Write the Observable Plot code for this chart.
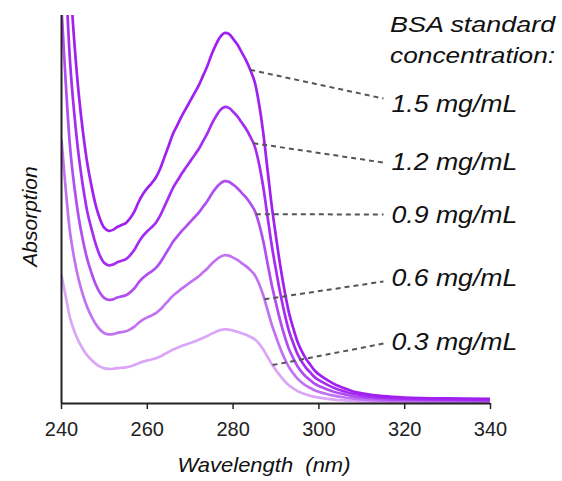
<!DOCTYPE html>
<html><head><meta charset="utf-8">
<script src="https://cdn.jsdelivr.net/npm/d3@7"></script>
<script src="https://cdn.jsdelivr.net/npm/@observablehq/plot@0.6"></script>
<style>html,body{margin:0;padding:0;background:#fff;} svg{display:block}</style>
</head><body><div id="chart"></div>
<script>
const wavelengths = [240,241,242,243,244,245,246,247,248,249,
  250,251,252,253,254,255,256,257,258,259,
  260,261,262,263,264,265,266,267,268,269,
  270,271,272,273,274,275,276,277,278,279,
  280,281,282,283,284,285,286,287,288,289,
  290,291,292,293,294,295,296,297,298,299,
  300,302,304,306,308,310,315,320,330,340];

const abs15 = [3.4,2.75,2.2,1.86,1.6,1.4,1.24,1.12,1.02,0.95,
  0.905,0.89,0.895,0.91,0.92,0.93,0.955,0.99,1.04,1.08,
  1.11,1.135,1.165,1.21,1.27,1.33,1.39,1.435,1.48,1.52,
  1.56,1.60,1.64,1.69,1.74,1.80,1.85,1.89,1.91,1.905,
  1.88,1.85,1.81,1.77,1.72,1.66,1.55,1.40,1.21,1.02,
  0.86,0.71,0.58,0.47,0.39,0.32,0.27,0.23,0.20,0.17,
  0.15,0.12,0.095,0.078,0.062,0.053,0.038,0.031,0.026,0.024];

const abs12 = [2.72,2.2,1.76,1.49,1.28,1.12,0.99,0.90,0.82,0.76,
  0.724,0.712,0.716,0.728,0.736,0.744,0.764,0.792,0.832,0.864,
  0.888,0.908,0.932,0.968,1.016,1.064,1.112,1.148,1.184,1.216,
  1.248,1.28,1.312,1.352,1.392,1.44,1.48,1.512,1.528,1.524,
  1.504,1.48,1.448,1.416,1.376,1.328,1.24,1.12,0.968,0.816,
  0.688,0.568,0.464,0.376,0.312,0.256,0.216,0.184,0.16,0.136,
  0.12,0.096,0.076,0.062,0.05,0.042,0.03,0.025,0.021,0.019];

const abs09 = [2.04,1.65,1.32,1.116,0.96,0.84,0.744,0.672,0.612,0.57,
  0.543,0.534,0.537,0.546,0.552,0.558,0.573,0.594,0.624,0.648,
  0.666,0.681,0.699,0.726,0.762,0.798,0.834,0.861,0.888,0.912,
  0.936,0.96,0.984,1.014,1.044,1.08,1.11,1.134,1.146,1.143,
  1.128,1.11,1.086,1.062,1.032,0.996,0.93,0.84,0.726,0.612,
  0.516,0.426,0.348,0.282,0.234,0.192,0.162,0.138,0.12,0.102,
  0.09,0.072,0.057,0.047,0.037,0.032,0.023,0.019,0.016,0.014];

const abs06 = [1.36,1.1,0.88,0.744,0.64,0.56,0.496,0.448,0.408,0.38,
  0.362,0.356,0.358,0.364,0.368,0.372,0.382,0.396,0.416,0.432,
  0.444,0.454,0.466,0.484,0.508,0.532,0.556,0.574,0.592,0.608,
  0.624,0.64,0.656,0.676,0.696,0.72,0.74,0.756,0.764,0.762,
  0.752,0.74,0.724,0.708,0.688,0.664,0.62,0.56,0.484,0.408,
  0.344,0.284,0.232,0.188,0.156,0.128,0.108,0.092,0.08,0.068,
  0.06,0.048,0.038,0.031,0.025,0.021,0.015,0.012,0.01,0.01];

const abs03 = [0.66,0.55,0.44,0.372,0.32,0.28,0.248,0.224,0.204,0.19,
  0.181,0.178,0.179,0.182,0.184,0.186,0.191,0.198,0.208,0.216,
  0.222,0.227,0.233,0.242,0.254,0.266,0.278,0.287,0.296,0.304,
  0.312,0.32,0.328,0.338,0.348,0.36,0.37,0.378,0.382,0.381,
  0.376,0.37,0.362,0.354,0.344,0.332,0.31,0.28,0.242,0.204,
  0.172,0.142,0.116,0.094,0.078,0.064,0.054,0.046,0.04,0.034,
  0.03,0.024,0.019,0.016,0.013,0.011,0.008,0.007,0.006,0.006];

const concentrations = ["0.3 mg/mL","0.6 mg/mL","0.9 mg/mL","1.2 mg/mL","1.5 mg/mL"];
const seriesValues = [abs03, abs06, abs09, abs12, abs15];
const lineColors = ["#dba6f8","#c172f3","#b04ef1","#a52cf0","#a020f0"];
const xTicks = [240,260,280,300,320,340];

// annotation anchors (data units)
const leaderStartNm = [289.2, 287.3, 285.3, 284.7, 284.0];
const leaderStartAbs = [0.198, 0.537, 0.976, 1.342, 1.72];
const leaderEndNm = 315.05;
const leaderEndAbs = [0.309, 0.629, 0.974, 1.242, 1.572];
const labelNm = 316.9;
const labelAbs = [0.314, 0.644, 0.969, 1.242, 1.541];
const titleLines = ["BSA standard", "concentration:"];
const titleAbs = [1.951, 1.789];

const rows = [];
concentrations.forEach((c, i) => {
  wavelengths.forEach((w, j) => rows.push({conc: c, nm: w, a: seriesValues[i][j]}));
});
const leaders = concentrations.map((c, i) => ({
  conc: c, x1: leaderStartNm[i], y1: leaderStartAbs[i], x2: leaderEndNm, y2: leaderEndAbs[i]
}));
const labels = concentrations.map((c, i) => ({text: c, x: labelNm, y: labelAbs[i]}));
const titles = titleLines.map((t, i) => ({text: t, x: labelNm - 0.3, y: titleAbs[i]}));

const svg = Plot.plot({
  width: 562,
  height: 481,
  marginLeft: 61,
  marginRight: 72,
  marginTop: 15,
  marginBottom: 78,
  style: {fontFamily: "'Liberation Sans', Arial, sans-serif", background: "#fff", overflow: "visible"},
  x: {domain: [240, 340], ticks: xTicks},
  y: {domain: [0, 2], axis: null},
  color: {type: "ordinal", domain: concentrations, range: lineColors},
  marks: [
    Plot.line(rows, {x: "nm", y: "a", z: "conc", stroke: "conc", strokeWidth: 2.7, curve: "catmull-rom", clip: true}),
    Plot.link(leaders, {x1: "x1", y1: "y1", x2: "x2", y2: "y2", stroke: "#555", strokeWidth: 2, strokeDasharray: "5,4"}),
    Plot.ruleX([240], {stroke: "#222", strokeWidth: 2}),
    Plot.ruleY([0], {stroke: "#222", strokeWidth: 2}),
    Plot.axisX({ticks: xTicks, tickSize: 6, tickPadding: 12, fontSize: 20, label: null, stroke: "#222", strokeWidth: 1.5, fill: "#222", tickFormat: d => String(d)}),
    Plot.text(labels, {x: "x", y: "y", text: "text", textAnchor: "start", lineAnchor: "middle", fontSize: 23, fontStyle: "italic", fill: "#111", clip: false}),
    Plot.text(titles, {x: "x", y: "y", text: "text", textAnchor: "start", lineAnchor: "middle", fontSize: 22, fontStyle: "italic", fill: "#111", clip: false}),
    Plot.text(["Wavelength\u00a0 (nm)"], {frameAnchor: "bottom", dx: -12, dy: 68, fontSize: 21, fontStyle: "italic", fill: "#111", lineAnchor: "bottom"}),
    Plot.text(["Absorption"], {frameAnchor: "left", textAnchor: "middle", rotate: -90, dx: -31, dy: 7, fontSize: 21, fontStyle: "italic", fill: "#111"})
  ]
});

const stretch = {"BSA standard": 165, "concentration:": 165, "Wavelength\u00a0 (nm)": 173};
concentrations.forEach(c => stretch[c] = 126);
d3.select(svg).selectAll("text").each(function() {
  const t = this.textContent;
  if (stretch[t]) {
    this.setAttribute("textLength", stretch[t]);
    this.setAttribute("lengthAdjust", "spacingAndGlyphs");
  }
});
document.getElementById("chart").appendChild(svg);
</script>
</body></html>
